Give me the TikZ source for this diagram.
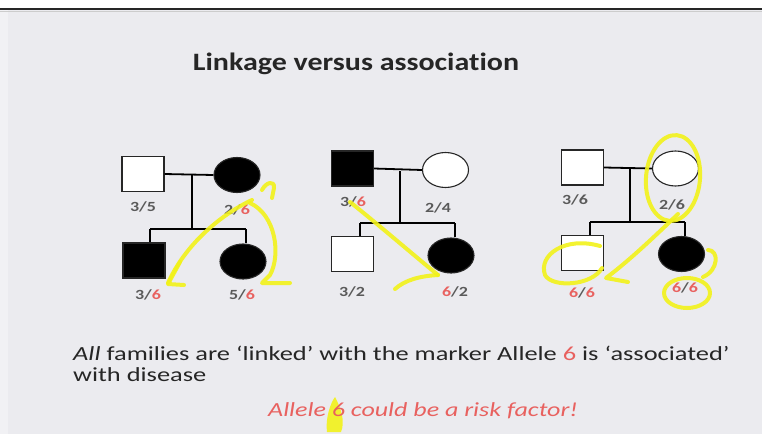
\documentclass[tikz,border=0pt]{standalone}
\usepackage{fontspec}
\usepackage{graphicx}
\setmainfont{Carlito}[Ligatures=NoCommon]
\usetikzlibrary{shapes.geometric}

\definecolor{slidebg}{HTML}{EBEBEF}
\definecolor{allele}{HTML}{E8615F}
\definecolor{geno}{HTML}{5A5A5A}
\definecolor{marker}{HTML}{F2F21A}

% wide text, as the slide is shown stretched sideways
\newcommand\wtext[2][1.28]{\scalebox{#1}[1]{#2}}
\newcommand\six{\textcolor{allele}{6}}

\tikzset{
  male/.style={draw=black!85, line width=1.1pt, rectangle, minimum width=42pt, minimum height=35pt, inner sep=0pt},
  female/.style={draw=black!85, line width=1.1pt, ellipse, minimum width=46pt, minimum height=35pt, inner sep=0pt},
  affected/.style={fill=black},
  unaffected/.style={fill=white},
  kin/.style={draw=black, line width=1.8pt},
  genotype/.style={font=\fontsize{14}{16}\selectfont\bfseries, text=geno, inner sep=0pt},
  bodytext/.style={font=\fontsize{20}{24}\selectfont, text=black!85, anchor=base west, inner sep=0pt},
  ink/.style={draw=marker, line width=4pt, line cap=round, line join=round, opacity=0.9}
}

\begin{document}
\begin{tikzpicture}[x=1pt,y=-1pt]
\useasboundingbox (0,0) rectangle (762,434);
% slide background and top border
\fill[white] (0,0) rectangle (762,8);
\fill[slidebg] (0,8) rectangle (762,434);
\fill[white,opacity=0.35] (0,8) rectangle (8,434);
\draw[black!85, line width=2pt] (0,8.5) -- (762,8.5);
\draw[black!20, line width=1pt] (0,11) -- (762,11);

% title
\node[font=\fontsize{25}{28}\selectfont\bfseries, text=black!85] (title) at (356,64) {\wtext[1.2]{Linkage versus association}};

% ---------- family 1 ----------
\node[male, unaffected] (f1) at (143,174) {};
\node[female, affected] (m1) at (237,175) {};
\node[male, affected] (s1) at (144,260.5) {};
\node[female, affected] (d1) at (243,261.5) {};
\coordinate (j1) at (192,175);
\coordinate (b1) at (192,229);
\coordinate (l1) at (150,229);
\coordinate (r1) at (246,229);
\draw[kin] (f1.east) -- (m1.west);
\draw[kin] (j1) -- (b1);
\draw[kin] (l1) -- (r1);
\draw[kin] (l1) -- (l1 |- s1.north);
\draw[kin] (r1) -- (r1 |- d1.north);
\node[genotype] (g1a) at (143,207) {\wtext{3/5}};
\node[genotype] (g1b) at (237,210) {\wtext{2/\six}};
\node[genotype] (g1c) at (148,295) {\wtext{3/\six}};
\node[genotype] (g1d) at (242,295) {\wtext{5/\six}};

% ---------- family 2 ----------
\node[male, affected] (f2) at (352.5,168.5) {};
\node[female, unaffected] (m2) at (445.5,170) {};
\node[male, unaffected] (s2) at (352.5,254) {};
\node[female, affected] (d2) at (451,255.5) {};
\coordinate (j2) at (400,171);
\coordinate (b2) at (400,223);
\coordinate (l2) at (360,223);
\coordinate (r2) at (455,223);
\draw[kin] (f2.east) -- (m2.west);
\draw[kin] (j2) -- (b2);
\draw[kin] (l2) -- (r2);
\draw[kin] (l2) -- (l2 |- s2.north);
\draw[kin] (r2) -- (r2 |- d2.north);
\node[genotype] (g2a) at (353,202) {\wtext{3/\six}};
\node[genotype] (g2b) at (438,208) {\wtext{2/4}};
\node[genotype] (g2c) at (352,292) {\wtext{3/2}};
\node[genotype] (g2d) at (455,292) {\wtext{\six/2}};

% ---------- family 3 ----------
\node[male, unaffected] (f3) at (582.5,167.5) {};
\node[female, unaffected] (m3) at (675.5,168.5) {};
\node[male, unaffected] (s3) at (582.5,253) {};
\node[female, affected] (d3) at (681.5,254) {};
\coordinate (j3) at (630,169);
\coordinate (b3) at (630,222);
\coordinate (l3) at (590,222);
\coordinate (r3) at (685,222);
\draw[kin] (f3.east) -- (m3.west);
\draw[kin] (j3) -- (b3);
\draw[kin] (l3) -- (r3);
\draw[kin] (l3) -- (l3 |- s3.north);
\draw[kin] (r3) -- (r3 |- d3.north);
\node[genotype] (g3a) at (575,200) {\wtext{3/6}};
\node[genotype] (g3b) at (672,205) {\wtext{2/6}};
\node[genotype] (g3c) at (582,293) {\wtext{\six/\six}};
\node[genotype] (g3d) at (685,288) {\wtext{\six/\six}};

% ---------- conclusion text ----------
% highlighter blob sits under the red "6"
\fill[marker, opacity=0.9] (327,432) .. controls (325,418) and (331,402) .. (335,397) .. controls (342,410) and (345,422) .. (341,432) -- cycle;
\node[bodytext] (t1) at (73,360) {\wtext[1.32]{\textit{All} families are ‘linked’ with the marker Allele \six{} is ‘associated’}};
\node[bodytext] (t2) at (73,381) {\wtext[1.32]{with disease}};
\node[bodytext, text=allele] (t3) at (268,416) {\wtext[1.3]{\textit{Allele 6 could be a risk factor!}}};

% ---------- hand-drawn highlighter marks ----------
% family 1
\draw[ink] (262,190) .. controls (266,182) and (275,180) .. (274,188) -- (272,198);
\draw[ink] (252,200) .. controls (220,215) and (185,245) .. (168,283);
\draw[ink] (180,262) -- (168,284) -- (184,285);
\draw[ink] (250,203) .. controls (276,215) and (281,255) .. (270,275) -- (262,283) -- (290,283);
% family 2
\draw[ink] (350,202) .. controls (380,226) and (410,252) .. (438,275);
\draw[ink] (438,275) .. controls (420,276) and (405,280) .. (395,289);
% family 3
\draw[ink, rotate around={-5:(673,178)}] (673,178) ellipse [x radius=27, y radius=43];
\draw[ink] (678,214) .. controls (655,236) and (630,260) .. (606,278) -- (628,282);
\draw[ink] (600,246) .. controls (565,236) and (538,255) .. (545,275) .. controls (552,288) and (592,286) .. (602,268);
\draw[ink] (708,250) .. controls (719,250) and (719,270) .. (703,277);
\draw[ink] (687,293) ellipse [x radius=23, y radius=15];
\end{tikzpicture}
\end{document}
